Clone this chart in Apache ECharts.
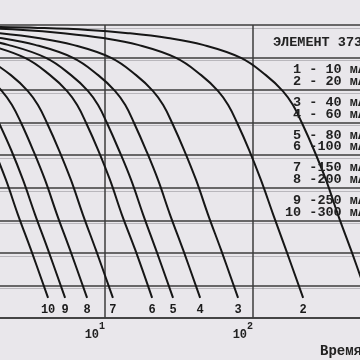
<!DOCTYPE html>
<html><head><meta charset="utf-8">
<script src="https://cdn.jsdelivr.net/npm/echarts@6/dist/echarts.min.js"></script>
<style>html,body{margin:0;padding:0;background:#e9e7eb}#c{width:360px;height:360px}</style>
</head><body><div id="c"></div>
<script>
// Discharge current of each curve, mA
const currents = [10, 20, 40, 60, 80, 100, 150, 200, 250, 300];
const title = 'ЭЛЕМЕНТ 373';
const xName = 'Время';
// [time, voltage], one array per curve
const curve1 = [[1.62,1.594],[3.52,1.591],[7.65,1.585],[14.3,1.575],[26.6,1.560],[45.9,1.539],[82.9,1.499],[122,1.446],[159,1.397],[186,1.354],[214,1.299],[258,1.216],[311,1.124],[375,1.017],[459,0.909],[598,0.762]];
const curve2 = [[1.28,1.591],[2.79,1.585],[5.21,1.575],[9.70,1.560],[16.7,1.539],[30.2,1.499],[44.6,1.446],[58.1,1.397],[67.9,1.354],[78.1,1.299],[94.1,1.216],[113,1.124],[137,1.017],[167,0.909],[218,0.762]];
const curve3 = [[1.89,1.575],[3.52,1.560],[6.07,1.539],[11.0,1.499],[16.2,1.446],[21.1,1.397],[24.7,1.354],[28.4,1.299],[34.2,1.216],[41.2,1.124],[49.7,1.017],[60.8,0.909],[79.2,0.762]];
const curve4 = [[1.05,1.575],[1.95,1.560],[3.37,1.539],[6.08,1.499],[8.98,1.446],[11.7,1.397],[13.7,1.354],[15.7,1.299],[18.9,1.216],[22.8,1.124],[27.5,1.017],[33.7,0.909],[43.9,0.762]];
const curve5 = [[1.28,1.560],[2.21,1.539],[3.99,1.499],[5.89,1.446],[7.68,1.397],[8.97,1.354],[10.3,1.299],[12.4,1.216],[15.0,1.124],[18.1,1.017],[22.1,0.909],[28.8,0.762]];
const curve6 = [[1.60,1.539],[2.88,1.499],[4.25,1.446],[5.54,1.397],[6.48,1.354],[7.45,1.299],[8.98,1.216],[10.8,1.124],[13.0,1.017],[16.0,0.909],[20.8,0.762]];
const curve7 = [[1.57,1.499],[2.31,1.446],[3.01,1.397],[3.52,1.354],[4.05,1.299],[4.88,1.216],[5.88,1.124],[7.09,1.017],[8.67,0.909],[11.3,0.762]];
const curve8 = [[1.55,1.446],[2.01,1.397],[2.35,1.354],[2.71,1.299],[3.26,1.216],[3.93,1.124],[4.74,1.017],[5.80,0.909],[7.56,0.762]];
const curve9 = [[1.67,1.354],[1.92,1.299],[2.32,1.216],[2.79,1.124],[3.37,1.017],[4.12,0.909],[5.37,0.762]];
const curve10 = [[1.78,1.216],[2.14,1.124],[2.58,1.017],[3.16,0.909],[4.12,0.762]];
const curves = [curve1, curve2, curve3, curve4, curve5, curve6, curve7, curve8, curve9, curve10];

const MONO = '"Liberation Mono", "DejaVu Sans Mono", monospace';
const chart = echarts.init(document.getElementById('c'), null, {renderer: 'canvas'});

const series = curves.map((pts, i) => ({
  type: 'line',
  smooth: 0.4,
  showSymbol: true,
  symbol: 'circle',
  symbolSize: 0.1,
  itemStyle: {color: 'rgba(0,0,0,0)'},
  lineStyle: {color: '#161616', width: 2},
  emphasis: {disabled: true},
  silent: true,
  clip: true,
  z: 3,
  label: {show: false},
  data: pts.map((p, j) => j === pts.length - 1
    ? {value: p, label: {show: true, position: 'bottom', distance: 6, formatter: String(i + 1),
        color: '#1a1a1a', fontFamily: MONO, fontWeight: 'bold', fontSize: 12}}
    : {value: p})
}));

const legendLines = currents.map((c, i) =>
  String(i + 1).padStart(2, ' ') + ' -' + String(c).padStart(3, ' ') + ' мА');

const graphics = [{
  type: 'text', left: 273, top: 36, z: 10,
  style: {text: title, font: 'bold 13.5px ' + MONO, fill: '#222'}
}].concat(legendLines.map((t, i) => ({
  type: 'text', left: 285, top: 63 + Math.floor(i / 2) * 32.6 + (i % 2) * 11.8, z: 10,
  style: {text: t, font: 'bold 13.5px ' + MONO, fill: '#222'}
}))).concat([{
  type: 'text', left: 320, top: 344, z: 10,
  style: {text: xName, font: 'bold 14px ' + MONO, fill: '#222'}
}]);

chart.setOption({
  backgroundColor: '#e9e7eb',
  animation: false,
  grid: {left: 0, right: 0, top: 25, bottom: 42, containLabel: false},
  xAxis: {
    type: 'log', logBase: 10, min: 1.95, max: 528,
    axisLine: {show: true, lineStyle: {color: '#3a3a3a', width: 1.5}},
    axisTick: {show: false},
    splitLine: {show: true, showMinLine: false, showMaxLine: false, lineStyle: {color: '#3c3c3c', width: 1.5}},
    axisLabel: {
      showMinLabel: false, showMaxLabel: false, margin: 3, align: 'right',
      formatter: v => {
        const e = Math.log10(v);
        if (Math.abs(e - Math.round(e)) > 1e-6) return '';
        return '{b|10}{s|' + Math.round(e) + '}';
      },
      rich: {
        b: {fontFamily: MONO, fontWeight: 'bold', fontSize: 12, color: '#222', lineHeight: 20, verticalAlign: 'bottom'},
        s: {fontFamily: MONO, fontWeight: 'bold', fontSize: 10, color: '#222', lineHeight: 20, verticalAlign: 'top'}
      }
    }
  },
  yAxis: [{
    type: 'value', min: 0.7, max: 1.6, interval: 0.1,
    axisLine: {show: false}, axisTick: {show: false}, axisLabel: {show: false},
    splitLine: {show: true, showMaxLine: true, lineStyle: {color: '#3c3c3c', width: 1.5}}
  }, {
    // faint companion rules printed just under each grid line in the original
    type: 'value', min: 0.7092, max: 1.6092, splitNumber: 9, position: 'left',
    axisLine: {show: false}, axisTick: {show: false}, axisLabel: {show: false},
    splitLine: {show: true, showMinLine: false, showMaxLine: false, lineStyle: {color: '#b9b7bc', width: 1}}
  }],
  graphic: graphics,
  series: series
});
</script></body></html>
